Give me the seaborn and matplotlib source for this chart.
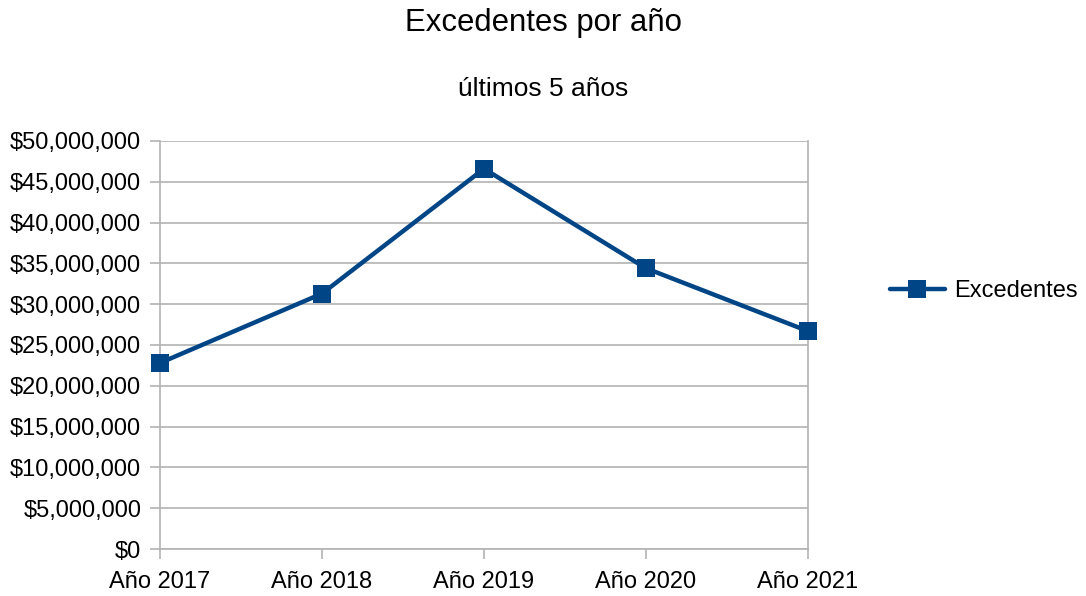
import pandas as pd
import matplotlib.pyplot as plt
import matplotlib.ticker as mticker
import seaborn as sns

# datos
anios = ["Año 2017", "Año 2018", "Año 2019", "Año 2020", "Año 2021"]
excedentes = [22800000, 31300000, 46600000, 34400000, 26700000]

sns.set_theme(style="white")
plt.rcParams['font.family'] = ['Liberation Sans', 'DejaVu Sans']
plt.rcParams['text.color'] = 'black'

df = pd.DataFrame({"anio": anios, "Excedentes": excedentes})
color = "#004586"
grid_col = "#b3b3b3"

fig = plt.figure(figsize=(10.86, 5.96), dpi=100)
ax = fig.add_axes([160 / 1086, 1 - 549 / 596, 648 / 1086, 408 / 596])

sns.lineplot(data=df, x="anio", y="Excedentes", ax=ax, color=color,
             linewidth=3.2, marker="s", markersize=12.5, markeredgewidth=0,
             label="Excedentes", legend=False, clip_on=False, zorder=5)

ax.set_xlim(0, len(anios) - 1)
ax.set_ylim(0, 50000000)
ax.yaxis.set_major_locator(mticker.MultipleLocator(5000000))
ax.yaxis.set_major_formatter(mticker.FuncFormatter(lambda v, p: f"${v:,.0f}"))
ax.set_xlabel("")
ax.set_ylabel("")

ax.grid(axis="y", color=grid_col, linewidth=1.2)
ax.set_axisbelow(True)
ax.spines["top"].set_visible(False)
for s in ["left", "right", "bottom"]:
    ax.spines[s].set_color(grid_col)
    ax.spines[s].set_linewidth(1.2)
ax.tick_params(axis="both", which="both", length=7.5, width=1.2, color=grid_col,
               labelsize=17, labelcolor="black", direction="out",
               bottom=True, left=True)
ax.tick_params(axis="y", pad=6)
ax.tick_params(axis="x", pad=8)

fig.text(0.5, 1 - 23 / 596, "Excedentes por año", ha="center", va="center", fontsize=22.4)
fig.text(0.5, 1 - 89 / 596, "últimos 5 años", ha="center", va="center", fontsize=19)

handles, labels = ax.get_legend_handles_labels()
fig.legend(handles, labels, loc="center left", bbox_to_anchor=(869 / 1086, 1 - 291 / 596),
           frameon=False, fontsize=17, handlelength=2.3, handletextpad=0.4)

fig.savefig("out.png", dpi=100)
